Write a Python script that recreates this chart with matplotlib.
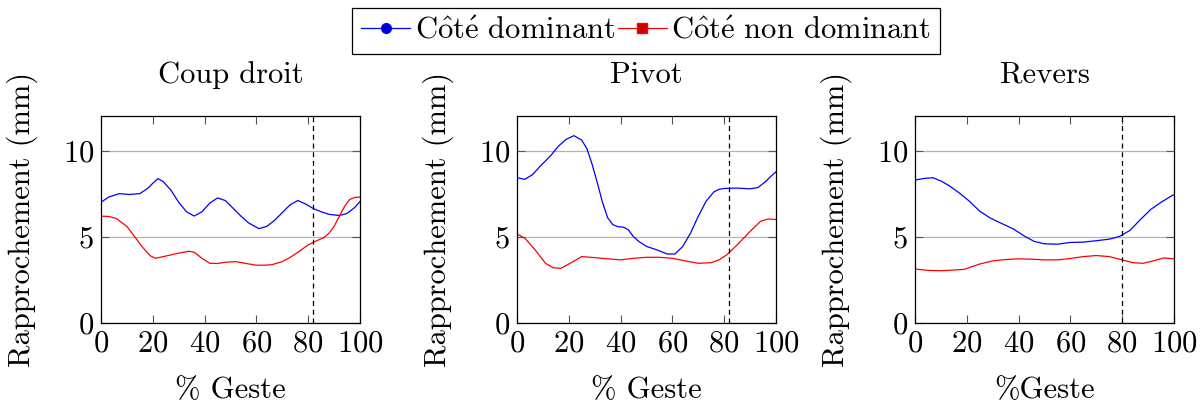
import numpy as np
import matplotlib.pyplot as plt
from matplotlib.lines import Line2D

plt.rcParams['font.family'] = ['cmr10', 'DejaVu Serif']
plt.rcParams['mathtext.fontset'] = 'cm'
plt.rcParams['axes.formatter.use_mathtext'] = True
plt.rcParams['font.size'] = 22

titles = ['Coup droit', 'Pivot', 'Revers']
xlabels = ['% Geste', '% Geste', '%Geste']
ylabel = 'Rapprochement (mm)'
legend_labels = [r'C$\hat{\mathrm{o}}$t$\acute{\mathrm{e}}$ dominant',
                 r'C$\hat{\mathrm{o}}$t$\acute{\mathrm{e}}$ non dominant']
vlines = [82, 82, 80]

# Coup droit
x_cd_dom = [0, 3, 7, 11, 15, 18, 20, 22, 24, 27, 30, 33, 36, 39, 42, 45, 48, 51, 54, 57,
            61, 64, 67, 70, 73, 76, 79, 82, 85, 88, 92, 95, 98, 100]
y_cd_dom = [7.0, 7.3, 7.5, 7.45, 7.5, 7.8, 8.1, 8.37, 8.2, 7.7, 7.0, 6.45, 6.2, 6.45, 6.95, 7.25,
            7.1, 6.65, 6.2, 5.8, 5.47, 5.6, 5.95, 6.4, 6.85, 7.1, 6.9, 6.63, 6.45, 6.3, 6.23, 6.35, 6.7, 7.04]
x_cd_non = [0, 3, 6, 10, 13, 16, 19, 21, 25, 30, 34, 36, 39, 42, 45, 48, 52, 56, 60, 63,
            66, 70, 73, 76, 80, 83, 86, 88, 90, 92, 94, 96, 98, 100]
y_cd_non = [6.19, 6.18, 6.05, 5.6, 5.0, 4.4, 3.9, 3.75, 3.88, 4.05, 4.16, 4.1, 3.75, 3.46, 3.45, 3.52,
            3.56, 3.45, 3.35, 3.35, 3.38, 3.56, 3.8, 4.1, 4.53, 4.75, 4.95, 5.2, 5.6, 6.19, 6.75, 7.16, 7.28, 7.3]

# Pivot
x_pv_dom = [0, 3, 6, 9, 13, 16, 19, 22, 25, 27, 29, 31, 33, 35, 37, 39, 41, 43, 45, 47, 50, 54,
            58, 61, 64, 67, 70, 73, 76, 78, 80, 85, 90, 93, 96, 98, 100]
y_pv_dom = [8.42, 8.33, 8.6, 9.1, 9.7, 10.25, 10.65, 10.86, 10.6, 10.1, 9.2, 8.13, 7.0, 6.1, 5.7, 5.58,
            5.56, 5.4, 5.0, 4.73, 4.44, 4.24, 4.0, 4.0, 4.44, 5.21, 6.19, 7.06, 7.6, 7.75, 7.8, 7.82, 7.78,
            7.85, 8.2, 8.5, 8.77]
x_pv_non = [0, 3, 7, 11, 14, 17, 20, 25, 30, 35, 40, 45, 50, 55, 60, 65, 70, 75, 78, 81,
            85, 90, 94, 97, 100]
y_pv_non = [5.16, 4.92, 4.24, 3.46, 3.2, 3.17, 3.42, 3.85, 3.79, 3.72, 3.66, 3.75, 3.81, 3.81, 3.75,
            3.6, 3.46, 3.5, 3.66, 3.95, 4.53, 5.31, 5.89, 6.03, 6.0]

# Revers
x_rv_dom = [0, 4, 7, 10, 13, 17, 21, 25, 29, 33, 38, 42, 46, 50, 55, 60, 65, 70, 75, 79,
            83, 87, 91, 95, 100]
y_rv_dom = [8.29, 8.39, 8.42, 8.23, 7.98, 7.55, 7.06, 6.48, 6.09, 5.8, 5.45, 5.06, 4.73, 4.59, 4.57,
            4.67, 4.69, 4.77, 4.86, 5.02, 5.37, 5.99, 6.58, 7.0, 7.45]
x_rv_non = [0, 5, 10, 15, 19, 25, 30, 35, 40, 45, 50, 55, 60, 65, 70, 75, 80, 84, 88, 92, 96, 100]
y_rv_non = [3.13, 3.05, 3.03, 3.07, 3.11, 3.42, 3.6, 3.68, 3.72, 3.7, 3.66, 3.66, 3.74, 3.85, 3.91,
            3.85, 3.66, 3.5, 3.46, 3.6, 3.77, 3.72]

dom = [(x_cd_dom, y_cd_dom), (x_pv_dom, y_pv_dom), (x_rv_dom, y_rv_dom)]
non = [(x_cd_non, y_cd_non), (x_pv_non, y_pv_non), (x_rv_non, y_rv_non)]

fig = plt.figure(figsize=(12.04, 4.05), dpi=100)
lefts = [101, 517, 915]
for i in range(3):
    ax = fig.add_axes([lefts[i] / 1204, 1 - 323 / 405, 259 / 1204, 207 / 405])
    ax.plot(dom[i][0], dom[i][1], color='#0000ff', lw=0.9)
    ax.plot(non[i][0], non[i][1], color='#ff0000', lw=0.9)
    ax.axvline(vlines[i], color='black', lw=0.9, dashes=(4, 3))
    ax.set_xlim(0, 100)
    ax.set_ylim(0, 12)
    ax.set_xticks([0, 20, 40, 60, 80, 100])
    ax.set_yticks([0, 5, 10])
    ax.yaxis.grid(True, color='#b3b3b3', lw=0.9)
    ax.set_axisbelow(True)
    ax.tick_params(direction='in', top=True, right=True, length=6, width=0.8,
                   color='#555555', pad=5)
    for s in ax.spines.values():
        s.set_linewidth(0.9)
    ax.set_title(titles[i], fontsize=22, pad=24)
    ax.set_xlabel(xlabels[i], labelpad=14)
    ax.set_ylabel(ylabel, labelpad=18)

handles = [Line2D([], [], color='#0000ff', lw=0.9, marker='o', markersize=7,
                  markerfacecolor='#0000cc', markeredgecolor='#0000ff'),
           Line2D([], [], color='#ff0000', lw=0.9, marker='s', markersize=7,
                  markerfacecolor='#cc0000', markeredgecolor='#ff0000')]
leg = fig.legend(handles, legend_labels, loc='upper center', bbox_to_anchor=(0.5367, 0.98),
                 ncol=2, numpoints=1, handlelength=1.6, handletextpad=0.15, columnspacing=0.1,
                 borderpad=0.3, borderaxespad=0, fancybox=False, edgecolor='black',
                 framealpha=1)
leg.get_frame().set_linewidth(0.9)

fig.savefig('out.png', dpi=100)
